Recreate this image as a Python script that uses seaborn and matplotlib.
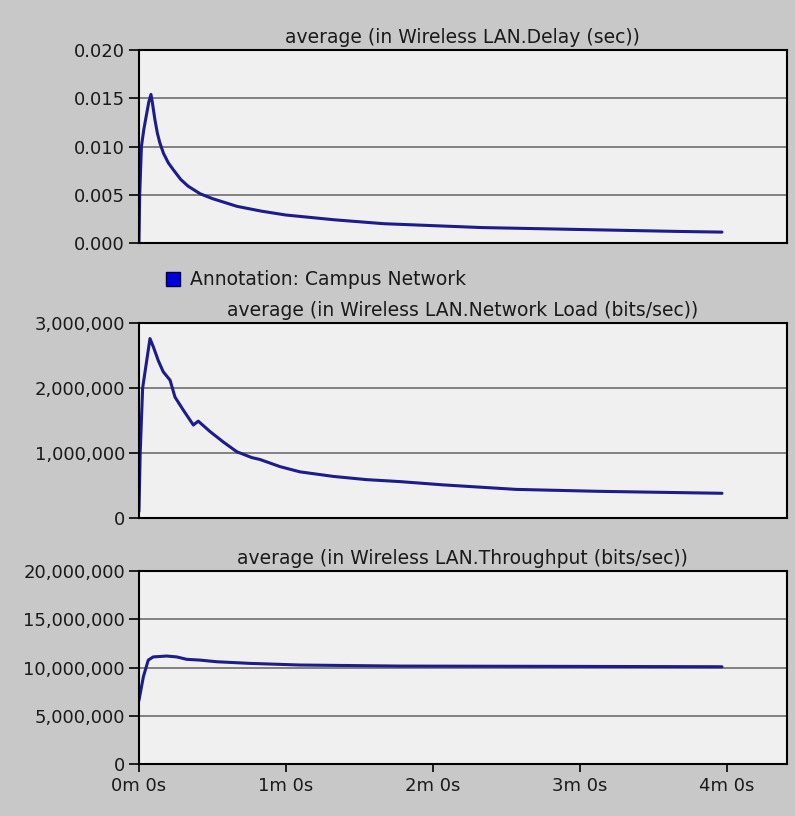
import numpy as np
import pandas as pd
import matplotlib
matplotlib.use("Agg")
import matplotlib.pyplot as plt
import seaborn as sns
from matplotlib.patches import Patch
from matplotlib.ticker import FixedLocator, FixedFormatter

# --- data (time in seconds) ---
delay_t = [0, 0.3, 1, 2, 3, 4, 4.9, 5.5, 6.5, 7.5, 8.5, 10, 12, 14, 17, 20,
           25, 30, 35, 40, 50, 60, 80, 100, 120, 140, 160, 180, 200, 220, 238]
delay_v = [0.0, 0.0050, 0.0100, 0.0118, 0.0132, 0.0146, 0.0154, 0.0145,
           0.0128, 0.0114, 0.0104, 0.0093, 0.0083, 0.0076, 0.0066, 0.0059,
           0.0051, 0.0046, 0.0042, 0.0038, 0.0033, 0.0029, 0.0024, 0.0020,
           0.0018, 0.0016, 0.0015, 0.0014, 0.0013, 0.0012, 0.00113]

load_t = [0, 0.5, 1.5, 4.5, 5.9, 7.9, 9.9, 12.7, 14.7, 18.1, 22.2, 24.2, 29,
          34.4, 39.9, 46, 49.4, 57.6, 65.7, 79.3, 92.9, 106.5, 124, 154, 188, 238]
load_v = [0.1e6, 1.0e6, 2.0e6, 2.76e6, 2.63e6, 2.42e6, 2.25e6, 2.12e6, 1.86e6,
          1.66e6, 1.43e6, 1.49e6, 1.33e6, 1.17e6, 1.02e6, 0.93e6, 0.90e6,
          0.79e6, 0.71e6, 0.64e6, 0.59e6, 0.56e6, 0.51e6, 0.44e6, 0.41e6, 0.38e6]

thr_t = [0, 1.8, 3.8, 5.8, 11.3, 15.4, 19.5, 24.9, 31.7, 45.3, 65.7, 106.5,
         174.6, 238]
thr_v = [6.6e6, 9.05e6, 10.77e6, 11.1e6, 11.19e6, 11.1e6, 10.85e6, 10.77e6,
         10.6e6, 10.43e6, 10.26e6, 10.15e6, 10.12e6, 10.08e6]

titles = ["average (in Wireless LAN.Delay (sec))",
          "average (in Wireless LAN.Network Load (bits/sec))",
          "average (in Wireless LAN.Throughput (bits/sec))"]

delay_ticks = [0, 0.005, 0.010, 0.015, 0.020]
delay_labels = ["0.000", "0.005", "0.010", "0.015", "0.020"]
load_ticks = [0, 1e6, 2e6, 3e6]
load_labels = ["0", "1,000,000", "2,000,000", "3,000,000"]
thr_ticks = [0, 5e6, 10e6, 15e6, 20e6]
thr_labels = ["0", "5,000,000", "10,000,000", "15,000,000", "20,000,000"]

x_ticks = [0, 60, 120, 180, 240]
x_labels = ["0m 0s", "1m 0s", "2m 0s", "3m 0s", "4m 0s"]

legend_label = "Annotation: Campus Network"

# --- style ---
sns.set_style("white")
plt.rcParams["font.family"] = ["DejaVu Sans"]
bg = "#c8c8c8"
face = "#f0f0f0"
line_col = "#1c1c8a"
txt = "#1a1a1a"

fig = plt.figure(figsize=(7.95, 8.16), dpi=100, facecolor=bg)
left, width = 0.1748, 0.815
ax1 = fig.add_axes([left, 0.7022, width, 0.2365])
ax2 = fig.add_axes([left, 0.3652, width, 0.2390])
ax3 = fig.add_axes([left, 0.0637, width, 0.2365])

panels = [
    (ax1, delay_t, delay_v, delay_ticks, delay_labels),
    (ax2, load_t, load_v, load_ticks, load_labels),
    (ax3, thr_t, thr_v, thr_ticks, thr_labels),
]

for (ax, t, v, yt, yl), title in zip(panels, titles):
    df = pd.DataFrame({"t": t, "v": v})
    sns.lineplot(data=df, x="t", y="v", ax=ax, color=line_col, linewidth=2.2)
    ax.set_facecolor(face)
    ax.set_xlim(0, 264.5)
    ax.set_ylim(yt[0], yt[-1])
    ax.yaxis.set_major_locator(FixedLocator(yt))
    ax.yaxis.set_major_formatter(FixedFormatter(yl))
    ax.yaxis.grid(True, color="#6e6e6e", linewidth=1.2)
    ax.xaxis.grid(False)
    ax.set_xlabel("")
    ax.set_ylabel("")
    for s in ax.spines.values():
        s.set_color("black")
        s.set_linewidth(1.5)
    ax.tick_params(axis="y", left=True, direction="out", length=7, width=1.2,
                   color="black", pad=3, labelsize=13, labelcolor=txt)
    ax.set_title(title, fontsize=13.5, color=txt, pad=5)
    ax.set_xticks([])

ax3.xaxis.set_major_locator(FixedLocator(x_ticks))
ax3.xaxis.set_major_formatter(FixedFormatter(x_labels))
ax3.tick_params(axis="x", bottom=True, direction="out", length=6, width=1.2,
                color="black", pad=3, labelsize=13, labelcolor=txt)

handle = Patch(facecolor="#0000dd", edgecolor="#000040", linewidth=1)
fig.legend(handles=[handle], labels=[legend_label], loc="center left",
           bbox_to_anchor=(0.188, 0.657), frameon=False, fontsize=13.5,
           handlelength=0.75, handleheight=0.75, handletextpad=0.5,
           labelcolor=txt)

fig.savefig("out.png", dpi=100, facecolor=bg)
